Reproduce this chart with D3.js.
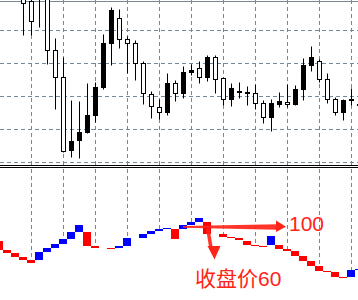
<!DOCTYPE html>
<html>
<head>
<meta charset="utf-8">
<script src="https://cdn.jsdelivr.net/npm/d3@7"></script>
<style>
  html, body { margin: 0; padding: 0; background: #fff; }
  svg { display: block; }
</style>
</head>
<body>
<svg id="chart" width="358" height="300"></svg>
<script>
// candle data, index 0..45 (first few are above the visible window)
const candleOpen  = [175, 175, 175, 175, 160.5, 170, 185, 112.2, 85.2, 12.2, 22.2, 30.2, 47.2, 75.2, 119.2, 144.2, 123.2, 119.2, 99.2, 67.8, 55.2, 50.2, 79.2, 69.2, 90.2, 94.2, 85.2, 105.2, 84.2, 63.2, 70.2, 69, 69.2, 59.2, 45.2, 58, 60.2, 58, 73.2, 97.2, 101.2, 83.2, 63.2, 50.2, 62.2, 58]
const candleHigh  = [185, 185, 185, 185, 175, 190, 190, 124.2, 105.2, 61.5, 60.5, 78.5, 80.2, 128.2, 154.5, 153.5, 126.2, 122.2, 101.2, 71.2, 63.5, 89.2, 82.5, 96.5, 97.5, 101.5, 107.5, 107.5, 85.2, 79.2, 80.5, 76, 78, 62.5, 63.5, 70.5, 78.2, 77.5, 103.5, 116.5, 103.2, 89.2, 65.2, 63.2, 74.2, 60.2]
const candleLow   = [168, 168, 168, 126.8, 126.8, 134.8, 97.5, 53.2, 10.3, 5.2, 4.2, 29, 40.2, 73.2, 97.2, 114.2, 89.2, 82.2, 58.2, 44.2, 43.2, 47.2, 61.2, 64.2, 87.2, 79.2, 81.2, 69, 57.2, 56, 64, 57, 53, 39, 31, 55, 55.2, 57, 62, 91.2, 80.2, 59.2, 47.2, 42.2, 57.2, 54.2]
const candleClose = [172, 172, 172, 159.2, 141.2, 185, 112.2, 85.2, 10.8, 21.2, 30.2, 47.2, 75.2, 119.2, 152.2, 123.2, 119.2, 99.2, 69.2, 56.2, 50.2, 79.2, 69.2, 90.2, 92.2, 85.2, 105.2, 83.2, 63.2, 74.2, 71.2, 70.2, 59.2, 45.2, 59.2, 61.3, 58.2, 73.2, 97.2, 105.2, 83.2, 63.2, 50.2, 62.2, 63.2, 57]

// lower indicator blocks
const oscOpen  = [59.3, 50.3, 47.3, 43.3, 40.3, 40.3, 48.3, 52.3, 56.3, 61.3, 68.3, 68.3, 54.3, 52.3, 52.3, 52.3, 54.3, 62.3, 62.3, 66.3, 69.3, 71.3, 71.3, 71.3, 75.3, 78.3, 78.3, 66.3, 66.3, 63.3, 62, 59, 55, 54, 55, 55, 51, 49, 44, 39, 34, 29, 28, 23, 23, 30]
const oscClose = [50.3, 47.3, 43.3, 40.3, 37.3, 48.3, 52.3, 56.3, 61.3, 68.3, 75.3, 54.3, 52.3, 52.3, 51.3, 54.3, 62.3, 62.3, 66.3, 69.3, 71.3, 72.3, 61.3, 75.3, 78.3, 82.3, 66.3, 66.3, 63.3, 62.3, 60, 55, 54.3, 53.3, 64, 51, 49, 44, 39, 34, 29, 28, 23, 22.3, 30, 31]

const priceGrid = [0, 33, 66, 99, 132]
const topLevel = 161
const gridBars = [4, 8, 12, 16, 20, 24, 28, 32, 36, 40, 44]

const W = 358, H = 300
const gridColor = '#778899'

const svg = d3.select('#chart')
const x = d3.scaleLinear().domain([0, 45]).range([-0.5, 359.5])
const yTop = d3.scaleLinear().domain([0, 165]).range([162.5, -2.5])
const yBot = d3.scaleLinear().domain([0, 132]).range([300, 168])

const candles = candleOpen.map((o, i) => ({
	i, o, h: candleHigh[i], l: candleLow[i], c: candleClose[i]
}))
const blocks = oscOpen.map((o, i) => ({ i, o, c: oscClose[i] }))

svg.append('rect').attr('width', W).attr('height', H).attr('fill', '#fff')

svg.append('clipPath').attr('id', 'clipTop')
	.append('rect').attr('x', 0).attr('y', 0).attr('width', W).attr('height', 165)

// top panel grid
const topPanel = svg.append('g').attr('clip-path', 'url(#clipTop)')

topPanel.selectAll('line.hgrid')
	.data(priceGrid)
	.join('line')
	.attr('x1', 0).attr('x2', W)
	.attr('y1', (d) => yTop(d)).attr('y2', (d) => yTop(d))
	.attr('stroke', gridColor)
	.attr('stroke-dasharray', '4,3')

topPanel.selectAll('line.vgrid')
	.data(gridBars)
	.join('line')
	.attr('x1', (d) => x(d)).attr('x2', (d) => x(d))
	.attr('y1', 0).attr('y2', 165)
	.attr('stroke', gridColor)
	.attr('stroke-dasharray', '4,3')

topPanel.append('line')
	.attr('x1', 0).attr('x2', W)
	.attr('y1', yTop(topLevel)).attr('y2', yTop(topLevel))
	.attr('stroke', gridColor)

// candles
const py = (v) => Math.round(yTop(v) - 0.5) + 0.5

topPanel.selectAll('line.wick')
	.data(candles)
	.join('line')
	.attr('x1', (d) => x(d.i)).attr('x2', (d) => x(d.i))
	.attr('y1', (d) => py(d.h)).attr('y2', (d) => py(d.l))
	.attr('stroke', '#000')

topPanel.selectAll('rect.body')
	.data(candles)
	.join('rect')
	.attr('x', (d) => x(d.i) - 2)
	.attr('width', 4)
	.attr('y', (d) => py(Math.max(d.o, d.c)))
	.attr('height', (d) => Math.max(1, py(Math.min(d.o, d.c)) - py(Math.max(d.o, d.c))))
	.attr('fill', (d) => (d.c > d.o ? '#000' : '#fff'))
	.attr('stroke', '#000')

// separator
svg.selectAll('line.sep')
	.data([165.5, 167.5])
	.join('line')
	.attr('x1', 0).attr('x2', W)
	.attr('y1', (d) => d).attr('y2', (d) => d)
	.attr('stroke', '#000')

// lower panel
const botPanel = svg.append('g')

botPanel.selectAll('line.vgrid2')
	.data(gridBars)
	.join('line')
	.attr('x1', (d) => x(d)).attr('x2', (d) => x(d))
	.attr('y1', 169).attr('y2', H)
	.attr('stroke', gridColor)
	.attr('stroke-dasharray', '4,3')

const by = (v) => Math.round(yBot(v))

// white fill under the indicator hides the grid
botPanel.selectAll('rect.under')
	.data(blocks)
	.join('rect')
	.attr('x', (d) => x(d.i) - 4.5)
	.attr('width', 8)
	.attr('y', (d) => by(Math.max(d.o, d.c)))
	.attr('height', (d) => H - by(Math.max(d.o, d.c)))
	.attr('fill', '#fff')

botPanel.selectAll('rect.block')
	.data(blocks.filter((d) => d.o !== d.c))
	.join('rect')
	.attr('x', (d) => x(d.i) - 4.5)
	.attr('width', 8)
	.attr('y', (d) => by(Math.max(d.o, d.c)))
	.attr('height', (d) => Math.max(1, by(Math.min(d.o, d.c)) - by(Math.max(d.o, d.c))))
	.attr('fill', (d) => (d.c > d.o ? '#0000ff' : '#ff0000'))

// hand drawn notes
const red = '#ff2418'
const note = svg.append('g').attr('fill', red)

note.append('path')
	.attr('d', 'M183,226 L278,224.2 L278,229.8 L183,227.8 Z')
	.attr('opacity', 0.92)
note.append('path')
	.attr('d', 'M276,220.5 L286,226.8 L276,232 Z')

note.append('path')
	.attr('d', 'M206,229 L209.5,228.5 L213,249 L209.5,249.5 Z')
	.attr('opacity', 0.92)
note.append('path')
	.attr('d', 'M207.5,246 L220.5,246 L214.5,259.5 Z')

note.append('text')
	.attr('x', 289).attr('y', 230.5)
	.attr('font-family', '"Liberation Sans", Arial, sans-serif')
	.attr('font-size', 21)
	.text('100')

note.append('text')
	.attr('x', 195).attr('y', 286)
	.attr('font-family', '"Liberation Sans", "Noto Sans CJK SC", sans-serif')
	.attr('font-size', 21)
	.text('收盘价60')
</script>
</body>
</html>
